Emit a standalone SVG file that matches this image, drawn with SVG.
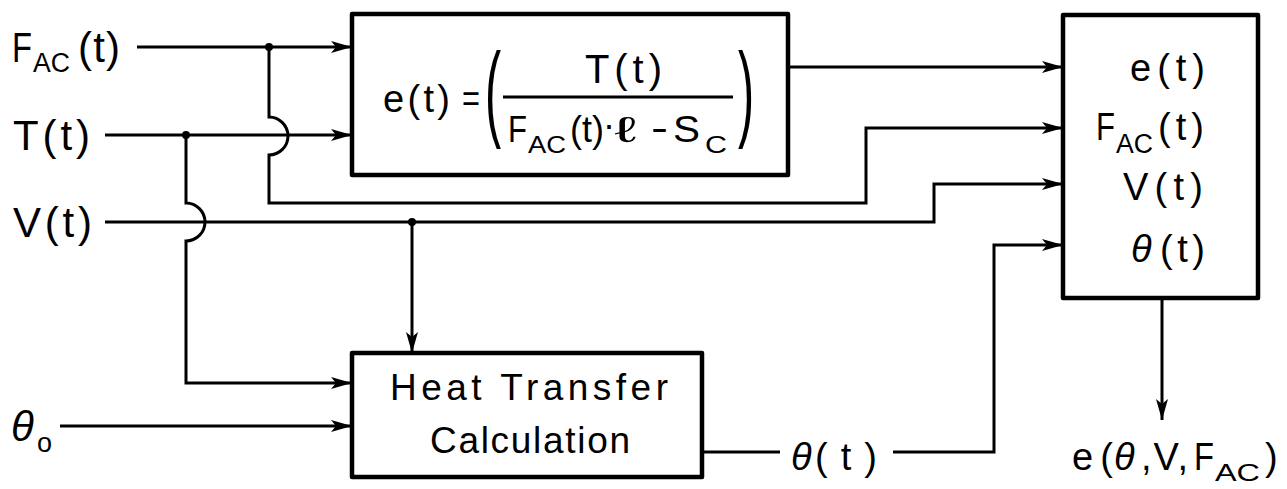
<svg xmlns="http://www.w3.org/2000/svg" width="1287" height="489" viewBox="0 0 1287 489">
<style>
text{font-family:"Liberation Sans",Arial,sans-serif;fill:#000;}
.box{fill:none;stroke:#000;stroke-width:4.5;stroke-linejoin:round;}
.ln{fill:none;stroke:#000;stroke-width:3;stroke-linejoin:miter;}
.big{font-size:42px;}
.mid{font-size:38px;}
.sub{font-size:27px;}
.it{font-style:italic;}
</style>
<defs>
<marker id="arr" markerUnits="userSpaceOnUse" markerWidth="24" markerHeight="14" refX="21" refY="7" orient="auto" overflow="visible">
<path d="M0,1 L21,7 L0,13 L5,7 Z" fill="#000"/>
</marker>
</defs>
<rect width="1287" height="489" fill="#fff"/>

<g id="input-labels">
<text class="big" x="12" y="62" textLength="20" lengthAdjust="spacingAndGlyphs">F</text>
<text class="sub" x="33" y="72" textLength="37" lengthAdjust="spacingAndGlyphs">AC</text>
<text class="big" x="78" y="62" textLength="42" lengthAdjust="spacing">(t)</text>
<text class="big" x="13" y="150" textLength="77" lengthAdjust="spacing">T(t)</text>
<text class="big" x="13" y="237" textLength="79" lengthAdjust="spacing">V(t)</text>
<text class="big it" x="11" y="441">θ</text>
<text class="sub" x="37" y="452">o</text>
</g>

<g id="strain-box">
<rect class="box" x="352" y="14" width="436" height="161"/>
<text class="mid" x="383" y="112" textLength="67" lengthAdjust="spacing">e(t)</text>
<text class="mid" x="462" y="112" textLength="18" lengthAdjust="spacingAndGlyphs">=</text>
<text font-size="44" transform="translate(485,127) scale(1.1,2.4)">(</text>
<text font-size="44" transform="translate(738,127) scale(1.1,2.4)">)</text>
<text font-size="40" x="585" y="83" textLength="77" lengthAdjust="spacing">T(t)</text>
<line x1="503" y1="97" x2="733" y2="97" stroke="#000" stroke-width="3"/>
<text font-size="36" x="508" y="142" textLength="19" lengthAdjust="spacingAndGlyphs">F</text>
<text font-size="24" x="528" y="153" textLength="38" lengthAdjust="spacingAndGlyphs">AC</text>
<text font-size="36" x="570" y="142" textLength="34" lengthAdjust="spacing">(t)</text>
<text font-size="36" x="603" y="137">·</text>
<text font-size="36" x="614" y="142" textLength="22" lengthAdjust="spacingAndGlyphs">ℓ</text>
<text font-size="36" x="651" y="140" textLength="17" lengthAdjust="spacingAndGlyphs">-</text>
<text font-size="36" x="673" y="142" textLength="27" lengthAdjust="spacingAndGlyphs">S</text>
<text font-size="24" x="705" y="153" textLength="22" lengthAdjust="spacingAndGlyphs">C</text>
</g>

<g id="output-box">
<rect class="box" x="1063" y="15" width="195" height="283"/>
<text class="mid" x="1130" y="81" textLength="75" lengthAdjust="spacing">e(t)</text>
<text class="mid" x="1096" y="140" textLength="19" lengthAdjust="spacingAndGlyphs">F</text>
<text class="sub" x="1116" y="153" textLength="37" lengthAdjust="spacingAndGlyphs">AC</text>
<text class="mid" x="1158" y="140" textLength="46" lengthAdjust="spacing">(t)</text>
<text class="mid" x="1123" y="200" textLength="80" lengthAdjust="spacing">V(t)</text>
<text class="mid it" x="1131" y="262">θ</text>
<text class="mid" x="1160" y="262" textLength="45" lengthAdjust="spacing">(t)</text>
</g>

<g id="heat-box">
<rect class="box" x="352" y="353" width="350" height="124"/>
<text font-size="37" x="390" y="400" textLength="278" lengthAdjust="spacing">Heat Transfer</text>
<text font-size="37" x="430" y="453" textLength="200" lengthAdjust="spacing">Calculation</text>
</g>

<g id="theta-label">
<text class="mid it" x="791" y="470">θ</text>
<text class="mid" x="815" y="470" textLength="62" lengthAdjust="spacing">(t)</text>
</g>

<g id="result-label">
<text class="mid" x="1072" y="470" textLength="41" lengthAdjust="spacing">e(</text>
<text class="mid it" x="1114" y="470">θ</text>
<text class="mid" x="1141" y="470" textLength="47" lengthAdjust="spacing">,V,</text>
<text class="mid" x="1194" y="470" textLength="20" lengthAdjust="spacingAndGlyphs">F</text>
<text font-size="24" x="1215" y="481" textLength="45" lengthAdjust="spacingAndGlyphs">AC</text>
<text class="mid" x="1265" y="470">)</text>
</g>

<g id="connectors">
<path class="ln" d="M137,47 H352" marker-end="url(#arr)"/>
<path class="ln" d="M105,135 H352" marker-end="url(#arr)"/>
<path class="ln" d="M269,47 V117 A19,19 0 0 1 269,155 V203 H866 V128 H1063" marker-end="url(#arr)"/>
<path class="ln" d="M186,135 V203 A19,19 0 0 1 186,241 V383 H352" marker-end="url(#arr)"/>
<path class="ln" d="M105,222 H934 V184 H1063" marker-end="url(#arr)"/>
<path class="ln" d="M412,222 V353" marker-end="url(#arr)"/>
<path class="ln" d="M60,426 H352" marker-end="url(#arr)"/>
<path class="ln" d="M788,67 H1063" marker-end="url(#arr)"/>
<path class="ln" d="M702,452 H780"/>
<path class="ln" d="M893,452 H994 V245 H1063" marker-end="url(#arr)"/>
<path class="ln" d="M1162,298 V420" marker-end="url(#arr)"/>
<circle cx="269" cy="47" r="4"/>
<circle cx="186" cy="135" r="4"/>
<circle cx="412" cy="222" r="4"/>
</g>
</svg>
